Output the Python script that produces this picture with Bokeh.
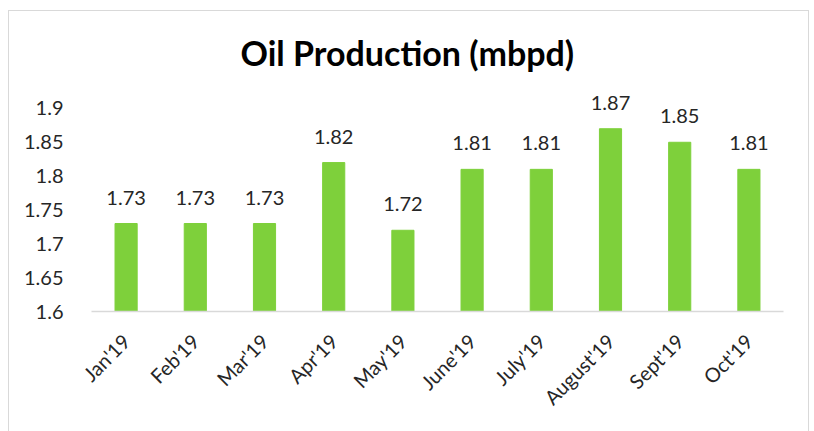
from math import pi
from bokeh.plotting import figure
from bokeh.models import ColumnDataSource, FixedTicker, Range1d, FactorRange
from bokeh.core.properties import value
from bokeh.embed import file_html
from bokeh.resources import INLINE

months = ["Jan'19", "Feb'19", "Mar'19", "Apr'19", "May'19", "June'19",
          "July'19", "August'19", "Sept'19", "Oct'19"]
production = [1.73, 1.73, 1.73, 1.82, 1.72, 1.81, 1.81, 1.87, 1.85, 1.81]
labels = ["1.73", "1.73", "1.73", "1.82", "1.72", "1.81", "1.81", "1.87", "1.85", "1.81"]
y_ticks = [1.6, 1.65, 1.7, 1.75, 1.8, 1.85, 1.9]
y_tick_labels = ["1.6", "1.65", "1.7", "1.75", "1.8", "1.85", "1.9"]

FONT = "Lato"
TXT = "#262626"

src = ColumnDataSource(dict(m=months, v=production, lab=labels))

p = figure(x_range=FactorRange(*months, range_padding=0), y_range=Range1d(1.6, 1.925),
           width=801, height=430, output_backend="svg", toolbar_location=None,
           title="Oil Production (mbpd)",
           min_border_left=82, min_border_right=27, min_border_top=72, min_border_bottom=130)
p.margin = (10, 0, 0, 8)
p.styles = {"border": "1px solid #d9d9d9"}

p.vbar(x="m", top="v", bottom=1.6, width=0.32, source=src, color="#7ED03B")
p.text(x="m", y="v", text="lab", source=src, text_align="center", text_baseline="bottom",
       y_offset=-19, text_font=value(FONT), text_font_size="20px", text_color=TXT)

p.title.align = "left"
p.title.offset = 149
p.title.text_font = FONT
p.title.text_font_style = "bold"
p.title.text_font_size = "34px"
p.title.text_color = "#000000"
p.title.standoff = 37

p.xgrid.grid_line_color = None
p.ygrid.grid_line_color = None
p.outline_line_color = None

p.yaxis.ticker = FixedTicker(ticks=y_ticks)
p.yaxis.major_label_overrides = {t: l for t, l in zip(y_ticks, y_tick_labels)}
p.yaxis.axis_line_color = None
p.yaxis.major_tick_line_color = None
p.yaxis.minor_tick_line_color = None
p.yaxis.major_label_standoff = 22
p.yaxis.major_label_text_font = FONT
p.yaxis.major_label_text_font_size = "20px"
p.yaxis.major_label_text_color = TXT

p.xaxis.axis_line_color = "#d9d9d9"
p.xaxis.axis_line_width = 1.5
p.xaxis.major_tick_line_color = None
p.xaxis.minor_tick_line_color = None
p.xaxis.major_label_orientation = pi / 4
p.xaxis.major_label_standoff = 20
p.xaxis.major_label_text_font = FONT
p.xaxis.major_label_text_font_size = "20px"
p.xaxis.major_label_text_color = TXT

open("out.html", "w").write(file_html(p, INLINE))
